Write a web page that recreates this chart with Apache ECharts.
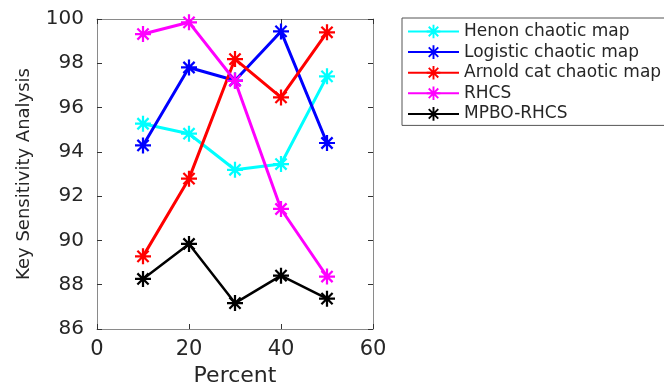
<!DOCTYPE html>
<html>
<head>
<meta charset="utf-8">
<script src="https://cdn.jsdelivr.net/npm/echarts@6/dist/echarts.min.js"></script>
<style>
html,body{margin:0;padding:0;background:#fff;}
#chart{width:664px;height:385px;}
</style>
</head>
<body>
<div id="chart"></div>
<script>
// ---- data ----
const percents = [10, 20, 30, 40, 50];
const seriesNames = ['Henon chaotic map', 'Logistic chaotic map', 'Arnold cat chaotic map', 'RHCS', 'MPBO-RHCS'];
const henon = [95.27, 94.82, 93.19, 93.45, 97.41];
const logistic = [94.29, 97.81, 97.22, 99.44, 94.40];
const arnold = [89.28, 92.79, 98.19, 96.46, 99.40];
const rhcs = [99.32, 99.85, 97.21, 91.42, 88.37];
const mpbo = [88.26, 89.84, 87.17, 88.41, 87.37];
const xTicks = [0, 20, 40, 60];
const yTicks = [86, 88, 90, 92, 94, 96, 98, 100];

const colors = ['#00ffff', '#0000ff', '#ff0000', '#ff00ff', '#000000'];
const values = [henon, logistic, arnold, rhcs, mpbo];

const star = 'path://M0 43L100 43L100 57L0 57Z M43 0L57 0L57 100L43 100Z ' +
  'M19.95 10.05L89.95 80.05L80.05 89.95L10.05 19.95Z ' +
  'M80.05 10.05L89.95 19.95L19.95 89.95L10.05 80.05Z';

const font = 'DejaVu Sans';
const txt = '#262626';
const axisCol = '#8a8a8a';

const chart = echarts.init(document.getElementById('chart'), null, {renderer: 'canvas'});

const baseAxis = (extra) => Object.assign({
  type: 'value',
  axisLine: {show: true, onZero: false, lineStyle: {color: axisCol, width: 1}},
  axisTick: {show: true, inside: true, length: 5, lineStyle: {color: '#333', width: 1}},
  splitLine: {show: false}
}, extra);

const option = {
  backgroundColor: '#ffffff',
  animation: false,
  grid: {left: 97, right: 291, top: 19, bottom: 56, containLabel: false, outerBoundsMode: 'none'},
  legend: {
    orient: 'vertical',
    left: 402,
    top: 18,
    padding: [5, 40, 3, 5],
    itemGap: 3.6,
    itemWidth: 51,
    itemHeight: 17,
    borderColor: '#555',
    borderWidth: 1,
    textStyle: {fontFamily: font, fontSize: 17, color: txt},
    data: seriesNames
  },
  xAxis: [
    baseAxis({
      min: xTicks[0], max: xTicks[xTicks.length - 1], interval: 20,
      position: 'bottom',
      name: 'Percent', nameLocation: 'middle', nameGap: 36,
      nameTextStyle: {fontFamily: font, fontSize: 22, color: txt},
      axisLabel: {fontFamily: font, fontSize: 21, color: txt, margin: 10}
    }),
    baseAxis({
      min: xTicks[0], max: xTicks[xTicks.length - 1], interval: 20,
      position: 'top', axisLabel: {show: false}
    })
  ],
  yAxis: [
    baseAxis({
      min: yTicks[0], max: yTicks[yTicks.length - 1], interval: 2,
      position: 'left',
      name: 'Key Sensitivity Analysis', nameLocation: 'middle', nameGap: 64,
      nameTextStyle: {fontFamily: font, fontSize: 18, color: txt},
      axisLabel: {fontFamily: font, fontSize: 20, color: txt, margin: 13}
    }),
    baseAxis({
      min: yTicks[0], max: yTicks[yTicks.length - 1], interval: 2,
      position: 'right', axisLabel: {show: false}
    })
  ],
  series: seriesNames.map((name, i) => ({
    name: name,
    type: 'line',
    xAxisIndex: 0,
    yAxisIndex: 0,
    data: percents.map((p, j) => [p, values[i][j]]),
    symbol: star,
    symbolSize: 16,
    showAllSymbol: true,
    color: colors[i],
    itemStyle: {color: colors[i]},
    lineStyle: {color: colors[i], width: i === 4 ? 2.5 : 3},
    emphasis: {disabled: true}
  }))
};
chart.setOption(option);
</script>
</body>
</html>
